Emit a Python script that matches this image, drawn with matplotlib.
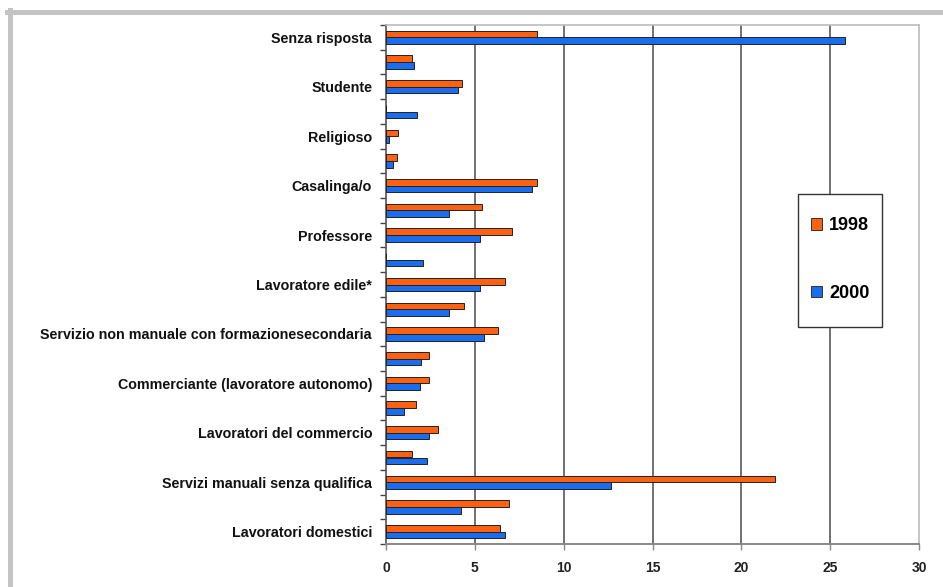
import matplotlib.pyplot as plt
from matplotlib.lines import Line2D
from matplotlib.patches import Rectangle
import numpy as np

# categories from top to bottom; blank rows carry no label
categories = [
    "Senza risposta", "", "Studente", "", "Religioso", "", "Casalinga/o", "",
    "Professore", "", "Lavoratore edile*", "",
    "Servizio non manuale con formazionesecondaria", "",
    "Commerciante (lavoratore autonomo)", "", "Lavoratori del commercio", "",
    "Servizi manuali senza qualifica", "", "Lavoratori domestici",
]
vals_1998 = [8.5, 1.45, 4.3, 0.0, 0.7, 0.6, 8.5, 5.4, 7.1, 0.0, 6.7, 4.4,
             6.3, 2.4, 2.4, 1.7, 2.9, 1.45, 21.9, 6.9, 6.4]
vals_2000 = [25.85, 1.6, 4.05, 1.75, 0.15, 0.4, 8.2, 3.55, 5.3, 2.1, 5.3, 3.55,
             5.5, 1.95, 1.9, 1.0, 2.4, 2.3, 12.65, 4.2, 6.7]
series_names = ["1998", "2000"]
x_ticks = [0, 5, 10, 15, 20, 25, 30]

ORANGE = "#FF6112"
BLUE = "#1A6EEE"

plt.rcParams['font.family'] = ['Liberation Sans', 'DejaVu Sans']
plt.rcParams['font.weight'] = 'bold'

fig = plt.figure(figsize=(9.43, 5.87), dpi=100)
ax = fig.add_axes([386 / 943, 1 - 544 / 587, (919 - 386) / 943, (544 - 25) / 587])

y = np.arange(len(categories))
h = 0.27
ax.barh(y - h / 2, vals_1998, height=h, color=ORANGE, edgecolor="#222222",
        linewidth=0.7, label=series_names[0], zorder=3)
ax.barh(y + h / 2, vals_2000, height=h, color=BLUE, edgecolor="#222222",
        linewidth=0.7, label=series_names[1], zorder=3)

ax.set_xlim(0, 30)
ax.set_ylim(len(categories) - 0.5, -0.5)
ax.set_xticks(x_ticks)
ax.set_xticklabels([str(t) for t in x_ticks], fontsize=10, fontweight='bold', color="#222222")
ax.tick_params(axis='x', length=4, width=1.0, color="#888888", pad=8)

# labels at the row centres, tick marks on the row boundaries
ax.set_yticks(y)
ax.set_yticklabels(categories, fontsize=10.3, fontweight='bold', color="#111111")
ax.set_yticks(np.arange(len(categories) + 1) - 0.5, minor=True)
ax.tick_params(axis='y', which='major', length=0, pad=10)
ax.tick_params(axis='y', which='minor', length=4, width=1.0, color="#444444")

for v in x_ticks[1:-1]:
    ax.axvline(v, color="#707070", linewidth=1.4, zorder=1)

ax.spines['left'].set_color("#555555")
ax.spines['left'].set_linewidth(1.2)
ax.spines['bottom'].set_color("#888888")
ax.spines['bottom'].set_linewidth(1.4)
ax.spines['top'].set_color("#BBBBBB")
ax.spines['right'].set_color("#BBBBBB")
ax.spines['top'].set_linewidth(1.2)
ax.spines['right'].set_linewidth(1.2)

# legend box drawn separately so it can be taller than the entries need
box_x0, box_x1 = (798 - 386) / 533, (882 - 386) / 533
box_y0, box_y1 = 1 - (327 - 25) / 519, 1 - (194 - 25) / 519
ax.add_patch(Rectangle((box_x0, box_y0), box_x1 - box_x0, box_y1 - box_y0,
                       transform=ax.transAxes, facecolor="white", edgecolor="#333333",
                       linewidth=1.0, zorder=5))
handles = [Rectangle((0, 0), 1, 1, facecolor=ORANGE, edgecolor="#333333", linewidth=0.7),
           Rectangle((0, 0), 1, 1, facecolor=BLUE, edgecolor="#333333", linewidth=0.7)]
leg = ax.legend(handles, series_names, loc='center',
                bbox_to_anchor=((box_x0 + box_x1) / 2, (box_y0 + box_y1) / 2 + 0.002),
                prop={'weight': 'bold', 'size': 13},
                frameon=False, borderpad=0, labelspacing=2.8,
                handlelength=0.62, handleheight=0.62, handletextpad=0.4,
                borderaxespad=0)
leg.set_zorder(6)

# light grey frame along the top and left edges
fig.add_artist(Line2D([7 / 943, 1], [1 - 12 / 587, 1 - 12 / 587],
                      transform=fig.transFigure, color="#C4C4C4", linewidth=3.6))
fig.add_artist(Line2D([9.5 / 943, 9.5 / 943], [0, 1 - 10 / 587],
                      transform=fig.transFigure, color="#C4C4C4", linewidth=3.6))

fig.savefig("out.png", dpi=100)
